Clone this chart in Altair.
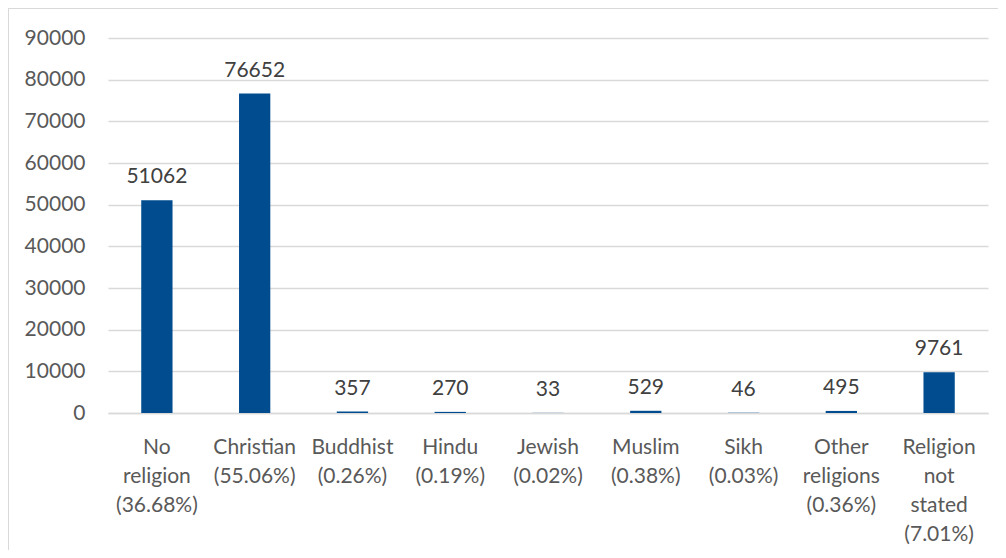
import altair as alt
import pandas as pd

categories = ["No|religion|(36.68%)", "Christian|(55.06%)", "Buddhist|(0.26%)",
              "Hindu|(0.19%)", "Jewish|(0.02%)", "Muslim|(0.38%)", "Sikh|(0.03%)",
              "Other|religions|(0.36%)", "Religion|not|stated|(7.01%)"]
values = [51062, 76652, 357, 270, 33, 529, 46, 495, 9761]
y_ticks = [0, 10000, 20000, 30000, 40000, 50000, 60000, 70000, 80000, 90000]

df = pd.DataFrame({"cat": categories, "value": values})

FONT = "Lato"
W, H = 880, 375

x_enc = alt.X("cat:N", sort=categories,
              scale=alt.Scale(paddingInner=0.68, paddingOuter=0.34),
              axis=alt.Axis(title=None, labelAngle=0, labelExpr="split(datum.label, '|')",
                            labelFont=FONT, labelFontSize=21, labelColor="#595959",
                            labelLineHeight=29, labelPadding=23, ticks=False, grid=False,
                            domain=True, domainColor="#d9d9d9", domainWidth=1.3,
                            labelOverlap=False, labelLimit=0, labelBound=False))
y_enc = alt.Y("value:Q", scale=alt.Scale(domain=[0, 90000], nice=False),
              axis=alt.Axis(title=None, values=y_ticks, format="d", ticks=False,
                            domain=False,
                            grid=True, gridColor="#d9d9d9", gridWidth=1.3,
                            labelFont=FONT, labelFontSize=21, labelColor="#595959",
                            labelPadding=23))

base = alt.Chart(df)
bars = base.mark_bar(color="#004C8F").encode(x=x_enc, y=y_enc)
labels = base.mark_text(baseline="alphabetic", dy=-17, font=FONT, fontSize=21,
                        color="#404040").encode(x=x_enc, y=y_enc, text="value:Q")

one = alt.Data(values=[{"k": 1}])
top_border = alt.Chart(one).mark_rule(color="#d9d9d9", strokeWidth=1).encode(
    x=alt.value(-100), x2=alt.value(900), y=alt.value(-29.5))
left_border = alt.Chart(one).mark_rule(color="#d9d9d9", strokeWidth=1).encode(
    x=alt.value(-99.5), y=alt.value(-30), y2=alt.value(520))

chart = alt.layer(bars, labels, top_border, left_border).properties(
    width=W, height=H,
    autosize=alt.AutoSizeParams(type="none"),
    padding={"left": 100, "top": 30, "right": 10, "bottom": 137},
    background="white",
).configure_view(strokeWidth=0)

chart.save("out.html", embed_options={"renderer": "svg", "actions": False})
